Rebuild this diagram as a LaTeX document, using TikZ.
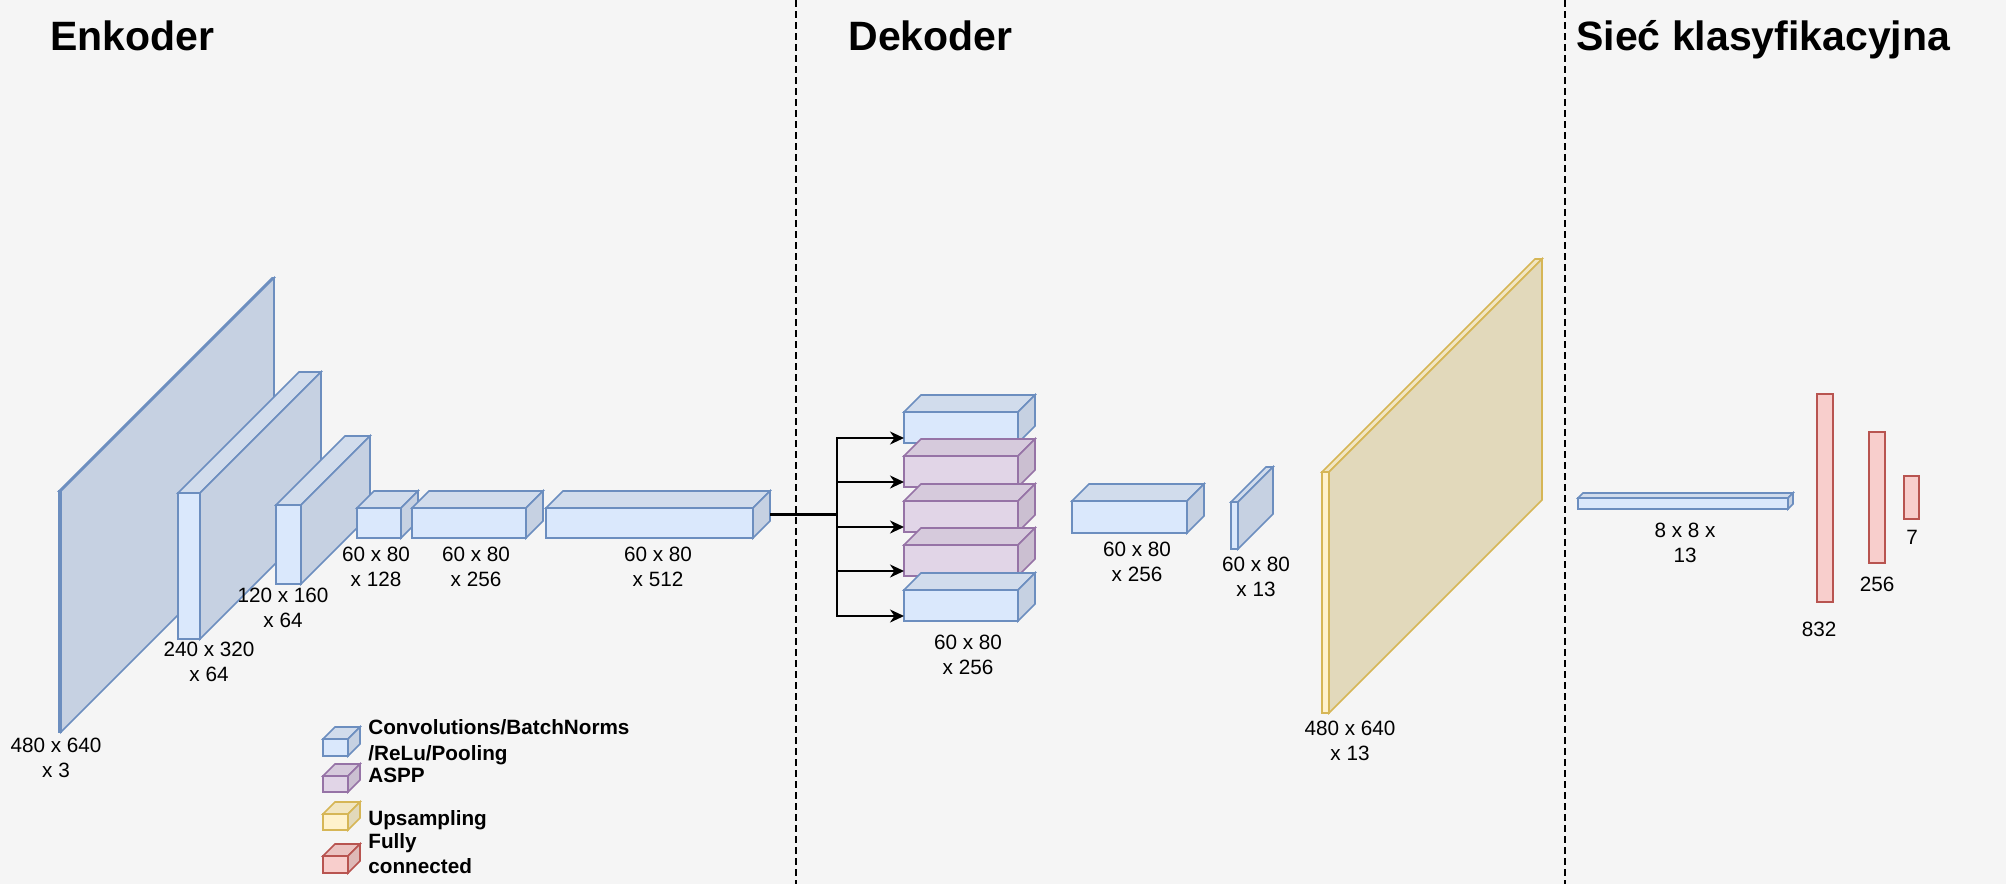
\documentclass[tikz,border=0pt]{standalone}
\usepackage{fontspec}
\setmainfont{Liberation Sans}
\usetikzlibrary{arrows.meta,calc}
\definecolor{bg}{HTML}{F5F5F5}
\definecolor{bFront}{HTML}{DAE8FC}
\definecolor{bTop}{HTML}{D1DCEC}
\definecolor{bSide}{HTML}{C6D1E2}
\definecolor{bLine}{HTML}{6C8EBF}
\definecolor{pFront}{HTML}{E1D5E7}
\definecolor{pTop}{HTML}{D6CADC}
\definecolor{pSide}{HTML}{CBBFD1}
\definecolor{pLine}{HTML}{9673A6}
\definecolor{yFront}{HTML}{FFF2CC}
\definecolor{yTop}{HTML}{F2E6C2}
\definecolor{ySide}{HTML}{E2D9BB}
\definecolor{yLine}{HTML}{D6B656}
\definecolor{rFront}{HTML}{F8CECC}
\definecolor{rTop}{HTML}{EBC3C1}
\definecolor{rSide}{HTML}{DEB9B7}
\definecolor{rLine}{HTML}{B85450}
\tikzset{
  frontface/.style={rectangle, anchor=north west, inner sep=0pt, outer sep=0pt, line width=0.8pt},
  cubeline/.style={line width=0.8pt, line join=miter},
  lbl/.style={font=\fontsize{10.35}{12.5}\selectfont, align=center, inner sep=0pt},
  legtxt/.style={font=\fontsize{10.35}{13}\selectfont\bfseries, anchor=base west, inner sep=0pt},
  title/.style={font=\fontsize{20.5}{24}\selectfont\bfseries, anchor=base west, inner sep=0pt},
  divider/.style={line width=0.75pt, dash pattern=on 3.5pt off 2pt},
  conn/.style={line width=1pt, black},
  arrowconn/.style={conn, -{Stealth[length=7pt,width=6.5pt,inset=2.2pt]}},
  fcbar/.style={rectangle, anchor=north west, inner sep=0pt, outer sep=0pt, line width=1pt, fill=rFront, draw=rLine}
}
% #1 colour prefix, #2 name, #3 x, #4 y, #5 width, #6 height, #7 depth
\newcommand{\drawcube}[7]{%
  \node[frontface, fill=#1Front, draw=#1Line, minimum width=#5*0.5pt, minimum height=#6*0.5pt] (#2) at (#3,#4) {};
  \filldraw[fill=#1Top, draw=#1Line, cubeline] (#2.north west) -- ++(#7,-#7) -- ++(#5,0) -- (#2.north east) -- cycle;
  \filldraw[fill=#1Side, draw=#1Line, cubeline] (#2.north east) -- ++(#7,-#7) -- ++(0,#6) -- (#2.south east) -- cycle;
}
\begin{document}
\begin{tikzpicture}[x=0.5pt,y=-0.5pt]
\useasboundingbox (0,0) rectangle (2006,884);
\fill[bg] (0,0) rectangle (2006,884);

% dividers
\draw[divider] (796,0) -- (796,884);
\draw[divider] (1565,0) -- (1565,884);

% titles
\node[title] (tenc) at (50,50) {Enkoder};
\node[title] (tdec) at (848,50) {Dekoder};
\node[title] (tcls) at (1576,50) {Sieć klasyfikacyjna};

% encoder
\drawcube{b}{e1}{59}{491}{2}{241}{213}
\drawcube{b}{e2}{178}{493}{22}{146}{121}
\drawcube{b}{e3}{276}{505}{25}{79}{69}
\drawcube{b}{e4}{357}{508}{44}{30}{17}
\drawcube{b}{e5}{412}{508}{114}{30}{17}
\drawcube{b}{e6}{546}{508}{207}{30}{17}

\node[lbl] (le1) at (56,758) {480 x 640\\x 3};
\node[lbl] (le2) at (209,662) {240 x 320\\x 64};
\node[lbl] (le3) at (283,608) {120 x 160\\x 64};
\node[lbl] (le4) at (376,566.5) {60 x 80\\x 128};
\node[lbl] (le5) at (476,566.5) {60 x 80\\x 256};
\node[lbl] (le6) at (658,566.5) {60 x 80\\x 512};

% ASPP stack
\drawcube{b}{a1}{904}{412}{114}{31}{17}
\drawcube{p}{a2}{904}{456}{114}{31}{17}
\drawcube{p}{a3}{904}{501}{114}{31}{17}
\drawcube{p}{a4}{904}{545}{114}{31}{17}
\drawcube{b}{a5}{904}{590}{114}{31}{17}
\node[lbl] (la) at (968,655) {60 x 80\\x 256};

% connectors
\coordinate (src) at ($(e6.east)+(17,-8.5)$);
\coordinate (split) at ($(src)+(67,0)$);
\draw[conn, line width=1.4pt] (src) -- (split);
\foreach \k in {a1,a2,a3,a4,a5}{
  \draw[arrowconn] (split) |- ($(\k.south west)+(0,-5)$);
}

% decoder rest
\drawcube{b}{d1}{1072}{501}{115}{32}{17}
\node[lbl] (ld1) at (1137,561.5) {60 x 80\\x 256};
\drawcube{b}{d2}{1231}{502}{7}{47}{35}
\node[lbl] (ld2) at (1256,576.5) {60 x 80\\x 13};
\drawcube{y}{d3}{1322}{472}{7}{241}{213}
\node[lbl] (ld3) at (1350,741) {480 x 640\\x 13};

% classifier
\drawcube{b}{c0}{1578}{498}{210}{11}{5}
\node[lbl] (lc0) at (1685,542.5) {8 x 8 x\\13};
\node[fcbar, minimum width=8pt, minimum height=104pt] (c1) at (1817,394) {};
\node[fcbar, minimum width=8pt, minimum height=65.5pt] (c2) at (1869,432) {};
\node[fcbar, minimum width=7.5pt, minimum height=21.5pt] (c3) at (1904,476) {};
\node[lbl] (lc1) at (1819,629) {832};
\node[lbl] (lc2) at (1877,584) {256};
\node[lbl] (lc3) at (1912,537) {7};

% legend
\drawcube{b}{k1}{323}{739}{25}{17}{12}
\drawcube{p}{k2}{323}{776}{25}{16}{12}
\drawcube{y}{k3}{323}{814}{25}{16}{12}
\drawcube{r}{k4}{323}{856}{25}{17}{12}
\node[legtxt] (t1a) at (368,734) {Convolutions/BatchNorms};
\node[legtxt] (t1b) at (368,760) {/ReLu/Pooling};
\node[legtxt] (t2) at (368,782) {ASPP};
\node[legtxt] (t3) at (368,825) {Upsampling};
\node[legtxt] (t4a) at (368,848) {Fully};
\node[legtxt] (t4b) at (368,873) {connected};
\end{tikzpicture}
\end{document}
